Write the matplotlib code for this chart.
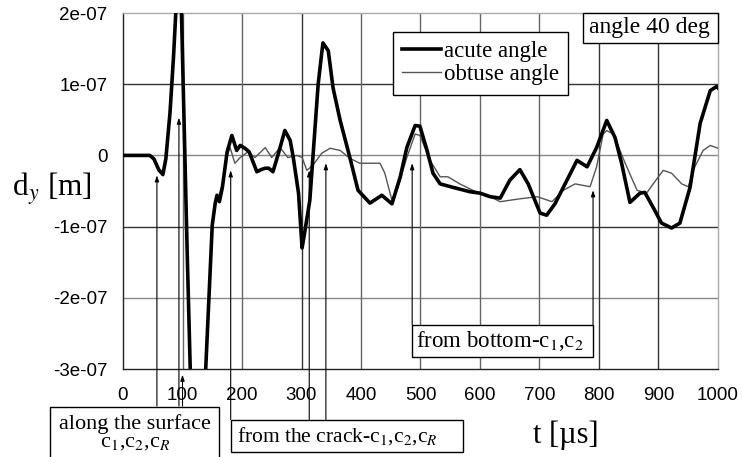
import matplotlib
matplotlib.use("Agg")
import matplotlib.pyplot as plt
from matplotlib.patches import Rectangle

# ---- data (displacement in units of 1e-7 m) ----
t_acute = [0, 45, 52, 60, 67, 72, 79, 85, 89, 93, 98, 104, 108, 113, 126, 139, 150, 155, 158, 162,
           167, 175, 183, 191, 197, 205, 212, 225, 232, 239, 245, 252, 261, 272, 281, 286, 295, 301,
           305, 314, 328, 336, 345, 353, 365, 381, 395, 415, 435, 452, 466, 477, 491, 499, 511, 521,
           533, 555, 583, 600, 617, 634, 650, 667, 681, 701, 712, 726, 746, 763, 780, 796, 813, 827,
           838, 852, 869, 877, 891, 905, 922, 936, 953, 970, 987, 998, 1000]
y_acute = [0, 0, -0.05, -0.2, -0.27, -0.05, 0.6, 1.4, 2.05, 2.2, 2.1, 0.0, -1.4, -3.0, -4.2, -3.0, -0.98, -0.67, -0.56, -0.65,
           -0.45, 0.05, 0.28, 0.07, 0.14, 0.1, 0.05, -0.23, -0.2, -0.18, -0.18, -0.23, 0.02, 0.35, 0.21, -0.02, -0.53, -1.3,
           -1.1, -0.63, 1.0, 1.58, 1.47, 0.95, 0.49, -0.02, -0.49, -0.67, -0.56, -0.68, -0.3, 0.11, 0.42, 0.41, 0.07, -0.25,
           -0.4, -0.45, -0.51, -0.53, -0.58, -0.6, -0.35, -0.2, -0.4, -0.81, -0.84, -0.68, -0.35, -0.07, -0.16, 0.11, 0.49, 0.25,
           -0.11, -0.66, -0.53, -0.52, -0.73, -0.95, -1.02, -0.95, -0.45, 0.45, 0.91, 0.97, 0.95]

t_obtuse = [0, 45, 52, 60, 67, 72, 79, 85, 89, 93, 98, 104, 108, 113, 126, 139, 150, 155, 160, 167,
            175, 180, 188, 197, 210, 222, 239, 250, 264, 277, 292, 301, 309, 319, 334, 348, 365, 381,
            398, 432, 440, 452, 462, 477, 491, 499, 516, 533, 546, 566, 588, 600, 617, 634, 667, 696,
            721, 740, 760, 785, 796, 807, 813, 824, 844, 864, 880, 891, 908, 922, 939, 950, 961, 975,
            987, 1000]
y_obtuse = [0, 0, -0.04, -0.18, -0.25, -0.05, 0.65, 1.35, 2.0, 2.15, 2.05, 0.0, -1.5, -3.0, -4.1, -3.0, -0.95, -0.7, -0.6, -0.4,
            0.0, 0.11, -0.11, -0.03, 0.05, -0.03, 0.11, -0.03, 0.11, -0.03, 0.0, -0.03, -0.21, -0.14, 0.03, 0.1, 0.07, -0.04,
            -0.11, -0.11, -0.25, -0.63, -0.45, -0.03, 0.3, 0.28, -0.07, -0.3, -0.3, -0.4, -0.49, -0.53, -0.58, -0.65, -0.61, -0.58,
            -0.65, -0.49, -0.4, -0.44, -0.16, 0.3, 0.35, 0.3, -0.11, -0.49, -0.53, -0.4, -0.21, -0.25, -0.4, -0.44, -0.16, 0.07,
            0.14, 0.1]

SCALE = 1e-7
x_ticks = [0, 100, 200, 300, 400, 500, 600, 700, 800, 900, 1000]
y_ticks = [2, 1, 0, -1, -2, -3]
y_ticklabels = ["2e-07", "1e-07", "0", "-1e-07", "-2e-07", "-3e-07"]

# annotation arrows: (t, tail, tip) in units of 1e-7
arrow_t    = [57, 94, 100, 181, 313, 341, 486, 790]
arrow_tail = [-3.52, -3.52, -3.52, -3.71, -3.71, -3.71, -2.38, -2.38]
arrow_tip  = [-0.28, 0.53, -3.08, -0.21, -0.21, -0.11, -0.11, -0.49]

W, H = 742, 457
fig = plt.figure(figsize=(W / 100, H / 100), dpi=100)
plt.rcParams['mathtext.fontset'] = 'stix'
SERIF = 'Liberation Serif'
SANS = 'Liberation Sans'

def fx(px):
    return px / W

def fy(py):
    return 1 - py / H

ax = fig.add_axes([fx(123), fy(369), fx(718) - fx(123), fy(13) - fy(369)])
ax.set_xlim(0, 1000)
ax.set_ylim(-3e-7, 2e-7)

ax.set_xticks(x_ticks)
ax.set_yticks([v * SCALE for v in y_ticks])
ax.set_yticklabels(y_ticklabels)
ax.tick_params(axis='both', length=0, labelsize=13.5)
ax.tick_params(axis='y', pad=11)
ax.tick_params(axis='x', pad=13)
for lab in ax.get_xticklabels() + ax.get_yticklabels():
    lab.set_fontfamily(SANS)

grid_dark = '#333333'
grid_light = '#888888'
for v in y_ticks[1:-1]:
    ax.axhline(v * SCALE, color=grid_dark if v in (1, -1) else grid_light, lw=1.0, zorder=1)
for v in x_ticks[1:-1]:
    ax.axvline(v, color=grid_dark if v in (300, 800, 900) else '#666666', lw=1.0, zorder=1)

for s in ['top', 'right']:
    ax.spines[s].set_color('#aaaaaa')
for s in ['left', 'bottom']:
    ax.spines[s].set_color('#222222')
for s in ax.spines.values():
    s.set_linewidth(1.0)

ax.plot(t_obtuse, [v * SCALE for v in y_obtuse], color='#555555', lw=1.0, zorder=3,
        label='obtuse angle')
ax.plot(t_acute, [v * SCALE for v in y_acute], color='black', lw=2.6, zorder=4,
        label='acute angle')

# arrows
for t, a, b in zip(arrow_t, arrow_tail, arrow_tip):
    ax.annotate('', xy=(t, b * SCALE), xytext=(t, a * SCALE),
                arrowprops=dict(arrowstyle='-|>,head_length=0.35,head_width=0.12',
                                color='black', lw=0.8, shrinkA=0, shrinkB=0),
                annotation_clip=False, zorder=6)

# legend
h, l = ax.get_legend_handles_labels()
leg = ax.legend(h[::-1], l[::-1], loc='upper left', bbox_to_anchor=(0.454, 0.947),
                borderaxespad=0, frameon=True, fancybox=False, edgecolor='black',
                framealpha=1, handlelength=1.7, handletextpad=0.1, borderpad=0.4,
                labelspacing=0.1, prop={'family': SERIF, 'size': 16.5})
leg.get_frame().set_linewidth(1.0)
leg.set_zorder(10)

def box(x0, y0, x1, y1):
    r = Rectangle((fx(x0), fy(y1)), fx(x1) - fx(x0), fy(y0) - fy(y1),
                  transform=fig.transFigure, facecolor='white', edgecolor='black',
                  lw=1.0, zorder=20, clip_on=False)
    fig.add_artist(r)

# angle box
box(583, 13, 718, 43)
fig.text(fx(589), fy(28), 'angle 40 deg', family=SERIF, size=17, va='center', ha='left', zorder=21)

# from bottom box
box(412, 325, 593, 357)
fig.text(fx(416), fy(341), r'from bottom-c$_1$,c$_2$', family=SERIF, size=16.5,
         va='center', ha='left', zorder=21)

# along the surface box
box(50, 407, 219, 460)
fig.text(fx(135), fy(424), 'along the surface', family=SERIF, size=16,
         va='center', ha='center', zorder=21)
fig.text(fx(135), fy(443), r'c$_1$,c$_2$,c$_R$', family=SERIF, size=16,
         va='center', ha='center', zorder=21)

# from the crack box
box(231, 420, 463, 452)
fig.text(fx(237), fy(436), r'from the crack-c$_1$,c$_2$,c$_R$', family=SERIF, size=15.5,
         va='center', ha='left', zorder=21)

# axis labels
fig.text(fx(12), fy(190), r'd$_y$ [m]', family=SERIF, size=22.5, va='center', ha='left')
fig.text(fx(566), fy(435), 't [µs]', family=SERIF, size=22, va='center', ha='center')

fig.savefig('out.png', dpi=100)
